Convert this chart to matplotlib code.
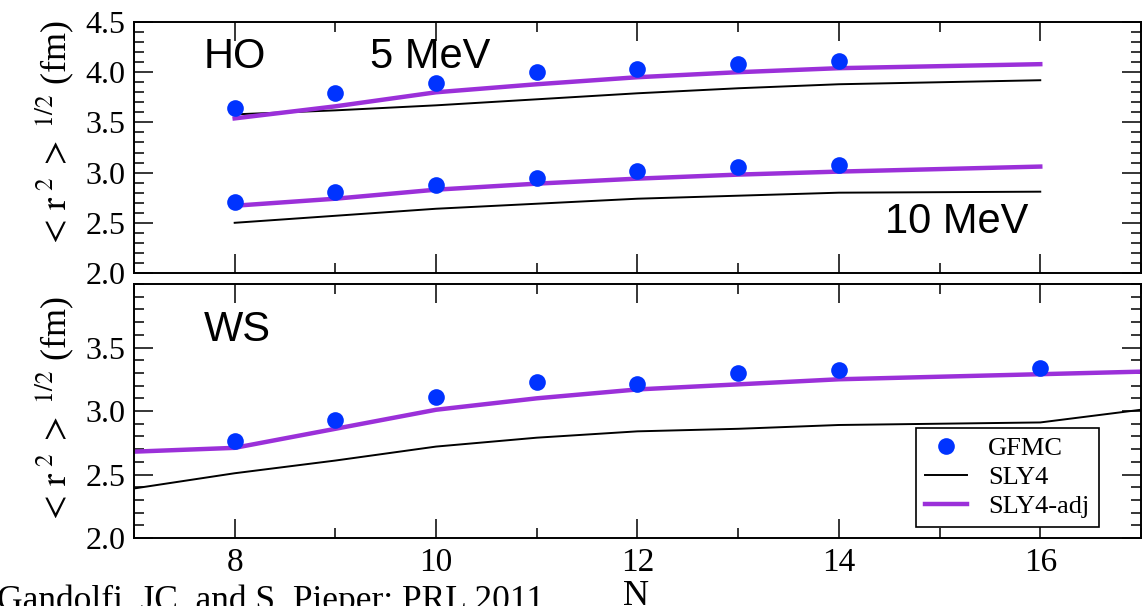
import numpy as np
import matplotlib
matplotlib.use('Agg')
import matplotlib.pyplot as plt
from matplotlib.ticker import MultipleLocator

plt.rcParams['font.family'] = 'serif'
plt.rcParams['font.serif'] = ['Liberation Serif', 'DejaVu Serif']
plt.rcParams['mathtext.fontset'] = 'stix'

# ---- data ----
# HO panel
n_gfmc_ho = [8, 9, 10, 11, 12, 13, 14]
gfmc_5 = [3.64, 3.79, 3.89, 4.00, 4.03, 4.08, 4.11]
gfmc_10 = [2.71, 2.81, 2.88, 2.95, 3.02, 3.06, 3.08]
n_line_ho = [8, 9, 10, 11, 12, 13, 14, 16]
sly4_5 = [3.58, 3.62, 3.67, 3.73, 3.79, 3.84, 3.88, 3.92]
adj_5 = [3.54, 3.66, 3.80, 3.88, 3.95, 4.00, 4.04, 4.08]
sly4_10 = [2.50, 2.57, 2.64, 2.69, 2.74, 2.77, 2.80, 2.81]
adj_10 = [2.67, 2.74, 2.83, 2.89, 2.94, 2.98, 3.01, 3.06]

# WS panel
n_gfmc_ws = [8, 9, 10, 11, 12, 13, 14, 16]
gfmc_ws = [2.76, 2.93, 3.11, 3.23, 3.21, 3.30, 3.32, 3.34]
n_line_ws = [7, 8, 9, 10, 11, 12, 13, 14, 16, 17]
sly4_ws = [2.39, 2.51, 2.61, 2.72, 2.79, 2.84, 2.86, 2.89, 2.91, 3.01]
adj_ws = [2.68, 2.71, 2.86, 3.01, 3.10, 3.17, 3.21, 3.25, 3.29, 3.31]

x_ticks = [8, 10, 12, 14, 16]

BLUE = '#0033ff'
PURPLE = '#9b30d9'
SANS = 'Liberation Sans'
YLABEL = r'$<\,\mathrm{r}^{\,\,2}\;>^{\,\,1/2}$ (fm)'

fig = plt.figure(figsize=(11.46, 6.06), dpi=100)
ax1 = fig.add_axes([0.1169, 0.5495, 0.8787, 0.4142])
ax2 = fig.add_axes([0.1169, 0.1122, 0.8787, 0.4191])


def style(ax, ylo, yhi, yticks):
    ax.set_xlim(7, 17)
    ax.set_ylim(ylo, yhi)
    ax.set_xticks(x_ticks)
    ax.xaxis.set_minor_locator(MultipleLocator(1))
    ax.set_yticks(yticks)
    ax.yaxis.set_minor_locator(MultipleLocator(0.1))
    ax.tick_params(which='both', direction='in', top=True, right=True, width=1.1)
    ax.tick_params(which='major', length=14)
    ax.tick_params(which='minor', length=7)
    ax.tick_params(axis='y', labelsize=23, pad=6)
    ax.tick_params(axis='x', labelsize=24, pad=7)
    for s in ax.spines.values():
        s.set_linewidth(1.4)
    ax.set_ylabel(YLABEL, fontsize=26)


style(ax1, 2.0, 4.5, [2.0, 2.5, 3.0, 3.5, 4.0, 4.5])
ax1.set_yticklabels(['2.0', '2.5', '3.0', '3.5', '4.0', '4.5'])
ax1.tick_params(axis='x', labelbottom=False)
ax1.yaxis.set_label_coords(-0.058, 0.55)

ax1.plot(n_line_ho, sly4_5, color='black', lw=1.4)
ax1.plot(n_line_ho, sly4_10, color='black', lw=1.4)
ax1.plot(n_line_ho, adj_5, color=PURPLE, lw=3.2)
ax1.plot(n_line_ho, adj_10, color=PURPLE, lw=3.2)
ax1.plot(n_gfmc_ho, gfmc_5, 'o', color=BLUE, ms=12, mec='none')
ax1.plot(n_gfmc_ho, gfmc_10, 'o', color=BLUE, ms=12, mec='none')
ax1.text(8.0, 4.15, 'HO', family=SANS, fontsize=30, ha='center', va='center')
ax1.text(9.94, 4.15, '5 MeV', family=SANS, fontsize=30, ha='center', va='center')
ax1.text(15.17, 2.51, '10 MeV', family=SANS, fontsize=30, ha='center', va='center')

style(ax2, 2.0, 4.0, [2.0, 2.5, 3.0, 3.5])
ax2.yaxis.set_label_coords(-0.058, 0.504)

ax2.plot(n_line_ws, sly4_ws, color='black', lw=1.4, label='SLY4')
ax2.plot(n_line_ws, adj_ws, color=PURPLE, lw=3.2, label='SLY4-adj')
ax2.plot(n_gfmc_ws, gfmc_ws, 'o', color=BLUE, ms=12, mec='none', label='GFMC')
ax2.text(8.03, 3.64, 'WS', family=SANS, fontsize=30, ha='center', va='center')

h, l = ax2.get_legend_handles_labels()
order = [2, 0, 1]
leg = ax2.legend([h[i] for i in order], [l[i] for i in order], loc='lower right',
                 bbox_to_anchor=(0.958, 0.043), borderaxespad=0, fontsize=19,
                 fancybox=False, edgecolor='black', framealpha=1,
                 handlelength=1.6, handletextpad=0.8, labelspacing=0.2,
                 borderpad=0.35, numpoints=1)
leg.get_frame().set_linewidth(1.2)

fig.text(-3 / 1146, 1 - 585 / 606, 'Gandolfi, JC, and S. Pieper: PRL 2011',
         fontsize=25.5, ha='left', va='top')
fig.text(636 / 1146, 1 - 580 / 606, 'N', fontsize=26, ha='center', va='top')

fig.savefig('out.png', dpi=100)
